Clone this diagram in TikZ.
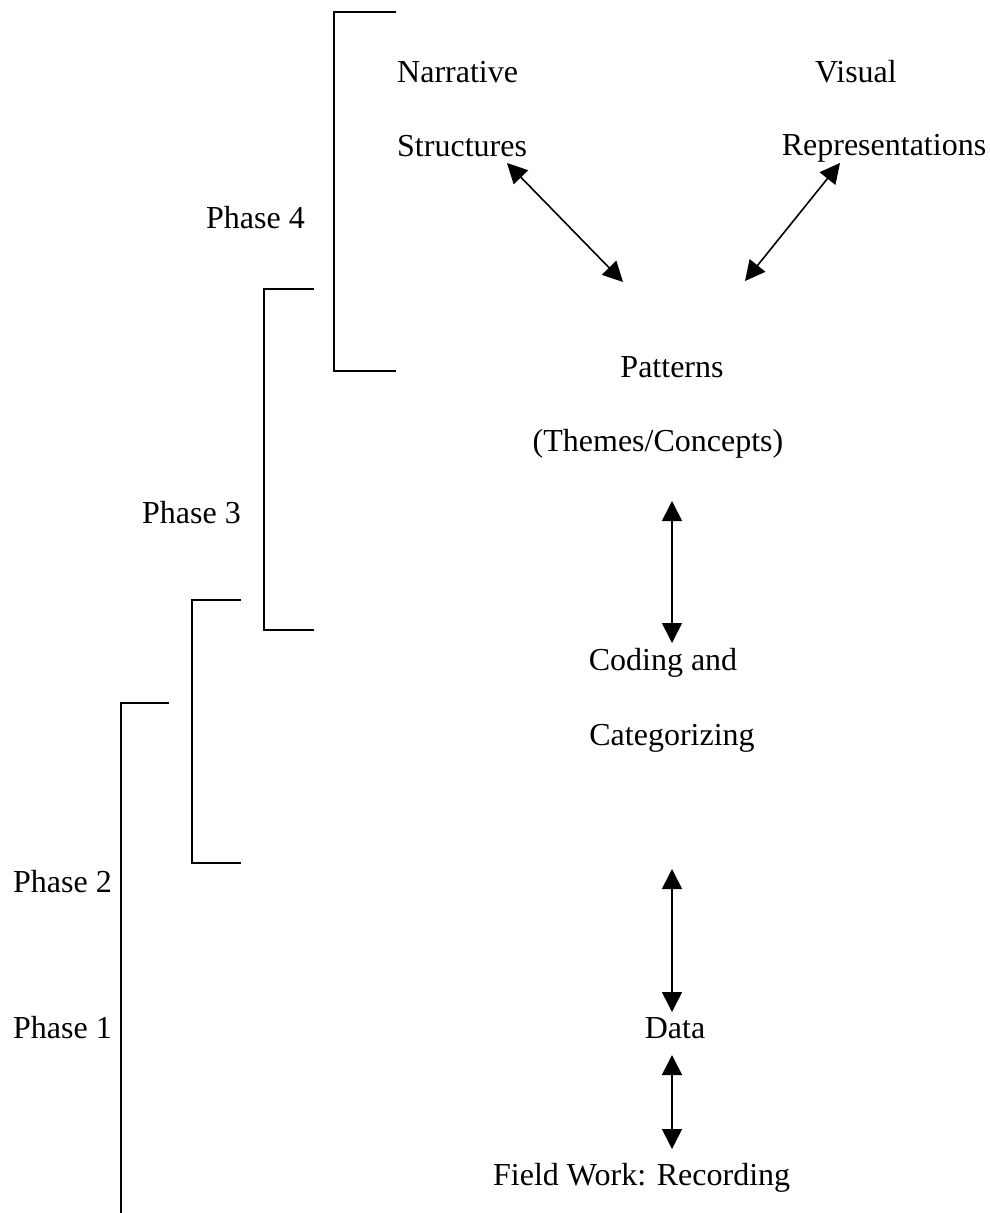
\documentclass[tikz,border=0pt]{standalone}
\usepackage{fontspec}
\setmainfont{Liberation Serif}
\usetikzlibrary{arrows.meta}
\begin{document}
\begin{tikzpicture}[x=1pt,y=-1pt,
  lbl/.style={inner sep=0pt,anchor=base,font=\fontsize{32}{38}\selectfont},
  lbll/.style={lbl,anchor=base west},
  conn/.style={line width=1.6pt,{Triangle[length=20pt,width=20pt]}-{Triangle[length=20pt,width=20pt]}},
  brk/.style={line width=1.6pt}]
\useasboundingbox (0,0) rectangle (990,1213);
% labels
\node[lbll] (narr) at (397,82) {Narrative};
\node[lbll] (struct) at (397,156) {Structures};
\node[lbl] (vis) at (856,82) {Visual};
\node[lbl] (repr) at (884,155) {Representations};
\node[lbl] (pat) at (672,377) {Patterns};
\node[lbl] (themes) at (658,451) {(Themes/Concepts)};
\node[lbl] (cod) at (663,670) {Coding and};
\node[lbl] (cat) at (672,745) {Categorizing};
\node[lbl] (data) at (675,1038) {Data};
\node[lbll] (field) at (493,1185) {Field Work: Recording};
\node[lbll] (p4) at (206,228) {Phase 4};
\node[lbll] (p3) at (142,523) {Phase 3};
\node[lbll] (p2) at (13,892) {Phase 2};
\node[lbll] (p1) at (13,1038) {Phase 1};
% arrow ends
\coordinate (a1s) at (507,163); \coordinate (a1e) at (623,282);
\coordinate (a2s) at (840,163); \coordinate (a2e) at (745,281);
\coordinate (a3s) at (672,501); \coordinate (a3e) at (672,643);
\coordinate (a4s) at (672,869); \coordinate (a4e) at (672,1012);
\coordinate (a5s) at (672,1055); \coordinate (a5e) at (672,1149);
\draw[conn] (a1s) -- (a1e);
\draw[conn] (a2s) -- (a2e);
\draw[conn] (a3s) -- (a3e);
\draw[conn] (a4s) -- (a4e);
\draw[conn] (a5s) -- (a5e);
% brackets
\coordinate (b4a) at (396,12); \coordinate (b4b) at (334,12);
\coordinate (b4c) at (334,371); \coordinate (b4d) at (396,371);
\draw[brk] (b4a) -- (b4b) -- (b4c) -- (b4d);
\coordinate (b3a) at (314,289); \coordinate (b3b) at (264,289);
\coordinate (b3c) at (264,630); \coordinate (b3d) at (314,630);
\draw[brk] (b3a) -- (b3b) -- (b3c) -- (b3d);
\coordinate (b2a) at (241,600); \coordinate (b2b) at (192,600);
\coordinate (b2c) at (192,863); \coordinate (b2d) at (241,863);
\draw[brk] (b2a) -- (b2b) -- (b2c) -- (b2d);
\coordinate (b1a) at (169,703); \coordinate (b1b) at (121,703);
\coordinate (b1c) at (121,1213);
\draw[brk] (b1a) -- (b1b) -- (b1c);
\end{tikzpicture}
\end{document}
